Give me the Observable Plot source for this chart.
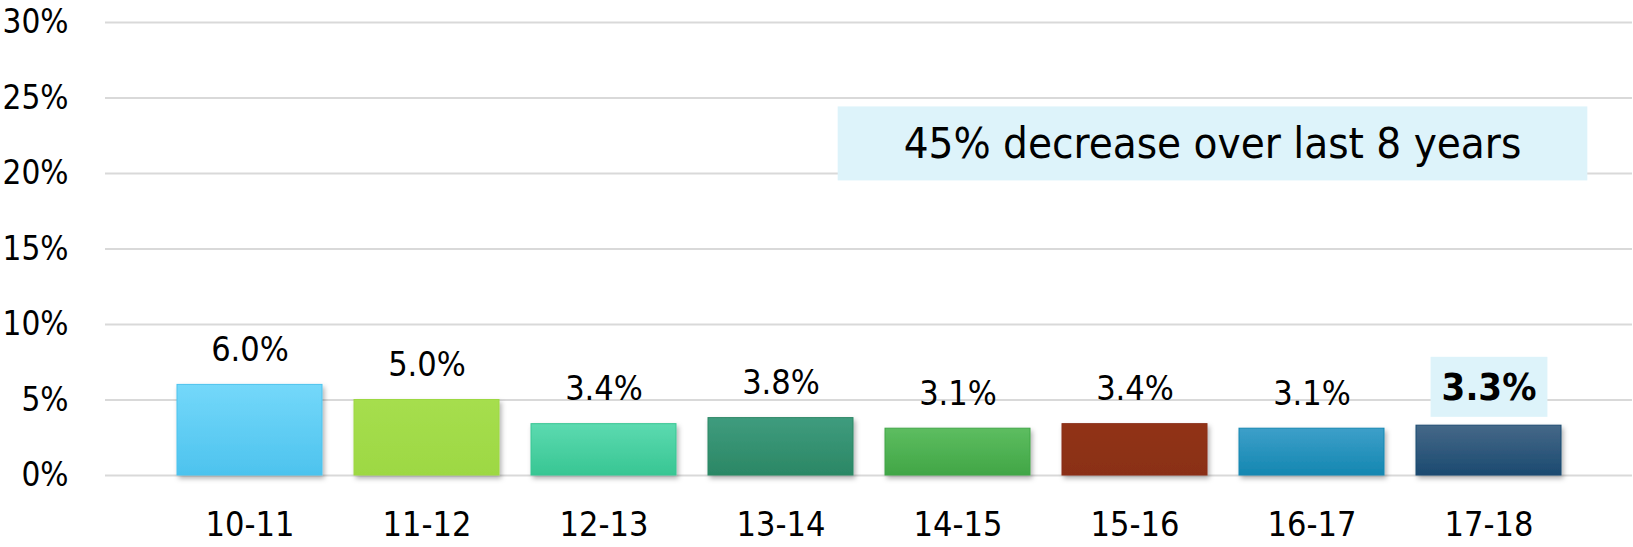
<!DOCTYPE html>
<html><head><meta charset="utf-8">
<script src="https://cdn.jsdelivr.net/npm/d3@7"></script>
<script src="https://cdn.jsdelivr.net/npm/@observablehq/plot@0.6"></script>
<style>body{margin:0;background:#fff}</style>
</head><body><div id="chart"></div>
<script>
const years = ["10-11","11-12","12-13","13-14","14-15","15-16","16-17","17-18"];
const rates = [6.0, 5.0, 3.4, 3.8, 3.1, 3.4, 3.1, 3.3];
const topColors = ["#74d8fa","#a6de4e","#5cdab0","#3f9c7e","#5dbd60","#913318","#3d9fc9","#456888"];
const bottomColors = ["#4dc3ee","#9dd843","#38c693","#2b8765","#41a646","#8a2f16","#1487b1","#1b4a70"];
const yTicks = [0, 5, 10, 15, 20, 25, 30];
const annotation = ["45% decrease over last 8 years"];

const data = years.map((y, i) => ({
  year: y, rate: rates[i], fill: `url(#grad${i})`, stroke: bottomColors[i],
  highlight: i === years.length - 1
}));

const font = "'DejaVu Sans Condensed', 'DejaVu Sans', sans-serif";

const plot = Plot.plot({
  width: 1633, height: 547,
  marginTop: 22, marginBottom: 72, marginLeft: 105, marginRight: 1,
  style: {fontFamily: font, fontStretch: "condensed", background: "#fff", color: "#000"},
  x: {domain: years, paddingInner: 0.181, paddingOuter: 0.39, axis: null},
  y: {domain: [0, 30], axis: null},
  color: {type: "identity"},
  marks: [
    Plot.gridY(yTicks, {stroke: "#d9d9d9", strokeOpacity: 1, strokeWidth: 2}),
    Plot.axisY(yTicks, {tickSize: 0, tickPadding: 37, tickFormat: d => d + "%", fontSize: 33, label: null, fill: "#000"}),
    Plot.axisX({tickSize: 0, tickPadding: 36, fontSize: 34, label: null, fill: "#000"}),
    Plot.barY(data, {x: "year", y: "rate", fill: "fill", stroke: "stroke", strokeWidth: 1}),
    Plot.text(data.filter(d => !d.highlight), {x: "year", y: "rate", text: d => d.rate.toFixed(1) + "%", dy: -35, fontSize: 34, fill: "#000"}),
    Plot.text(data.filter(d => d.highlight), {x: "year", y: "rate", text: d => d.rate.toFixed(1) + "%", dy: -38, fontSize: 38, fontWeight: "bold", fill: "#000"}),
    Plot.text(annotation, {frameAnchor: "top-right", dx: -420, dy: 122, textAnchor: "middle", lineAnchor: "middle", fontSize: 43.5, fill: "#000"})
  ]
});
document.getElementById("chart").appendChild(plot);

// gradients and shadow
const svg = d3.select(plot);
const defs = svg.insert("defs", ":first-child");
topColors.forEach((c, i) => {
  const g = defs.append("linearGradient").attr("id", `grad${i}`).attr("x1", 0).attr("y1", 0).attr("x2", 0).attr("y2", 1);
  g.append("stop").attr("offset", "0%").attr("stop-color", c);
  g.append("stop").attr("offset", "100%").attr("stop-color", bottomColors[i]);
});
const f = defs.append("filter").attr("id", "shadow").attr("x", "-10%").attr("y", "-10%").attr("width", "130%").attr("height", "130%");
f.append("feDropShadow").attr("dx", 2).attr("dy", 3).attr("stdDeviation", 2.5).attr("flood-color", "#000").attr("flood-opacity", 0.3);
svg.selectAll('g[aria-label="bar"]').attr("filter", "url(#shadow)");

// background boxes behind highlighted texts
function addBox(textG, padX, padY, fill) {
  const t = textG.querySelector("text");
  const b = t.getBBox();
  const pt = plot.createSVGPoint();
  const mm = plot.getScreenCTM().inverse().multiply(t.getScreenCTM());
  pt.x = b.x; pt.y = b.y; const p1 = pt.matrixTransform(mm);
  pt.x = b.x + b.width; pt.y = b.y + b.height; const p2 = pt.matrixTransform(mm);
  const r = document.createElementNS("http://www.w3.org/2000/svg", "rect");
  r.setAttribute("x", p1.x - padX);
  r.setAttribute("y", p1.y - padY);
  r.setAttribute("width", p2.x - p1.x + 2 * padX);
  r.setAttribute("height", p2.y - p1.y + 2 * padY);
  r.setAttribute("fill", fill);
  textG.parentNode.insertBefore(r, textG);
}
const textGroups = plot.querySelectorAll('g[aria-label="text"]');
addBox(textGroups[1], 11, 8, "#ddf3fa");
addBox(textGroups[2], 66, 12, "#ddf3fa");
</script>
</body></html>
